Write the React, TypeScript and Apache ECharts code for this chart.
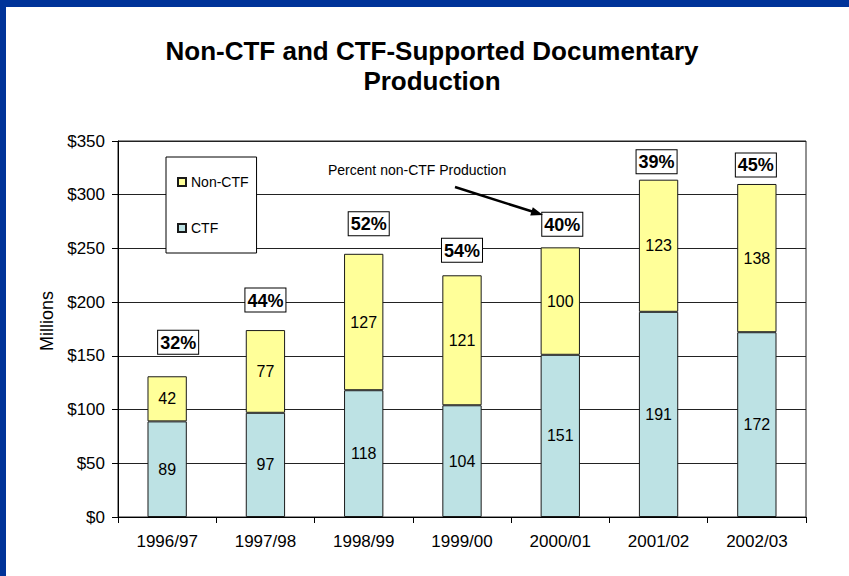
import React, { useEffect, useRef } from 'react';
import * as echarts from 'echarts';

// ---- data ----
const categories = ['1996/97', '1997/98', '1998/99', '1999/00', '2000/01', '2001/02', '2002/03'];
const ctfValues = [89, 97, 118, 104, 151, 191, 172];
const nonCtfValues = [42, 77, 127, 121, 100, 123, 138];
const pctNonCtf = ['32%', '44%', '52%', '54%', '40%', '39%', '45%'];
const yMin = 0;
const yMax = 350;
const yInterval = 50;

// ---- label placement (style) ----
const pctLabelGap = [22, 18, 18, 13, 11, 6, 7];
const pctLabelShift = [11, 0, 5, 0, 2, -2, -1];

const FONT = '"Liberation Sans", Arial, sans-serif';

export default function App() {
  const ref = useRef<HTMLDivElement>(null);

  useEffect(() => {
    document.body.style.margin = '0';
    if (!ref.current) return;
    const chart = echarts.init(ref.current, undefined, { renderer: 'svg' });

    const totals = ctfValues.map((v, i) => v + nonCtfValues[i]);

    const option: any = {
      animation: false,
      backgroundColor: '#ffffff',
      textStyle: { fontFamily: FONT, color: '#000' },
      title: {
        text: 'Non-CTF and CTF-Supported Documentary\nProduction',
        left: 427,
        top: 31,
        textAlign: 'center',
        textStyle: { fontFamily: FONT, fontSize: 26, fontWeight: 'bold', lineHeight: 30, color: '#000' },
      },
      legend: {
        data: ['Non-CTF', 'CTF'],
        orient: 'vertical',
        left: 166,
        top: 157,
        padding: [17, 8, 17, 11],
        itemGap: 30,
        itemWidth: 8,
        itemHeight: 8,
        icon: 'rect',
        backgroundColor: '#fff',
        borderColor: '#000',
        borderWidth: 1,
        textStyle: { fontFamily: FONT, fontSize: 14, lineHeight: 16, color: '#000' },
      },
      grid: {
        left: 118,
        right: 43,
        top: 141,
        bottom: 59,
        show: true,
        borderColor: '#222',
        borderWidth: 1,
        backgroundColor: '#fff',
      },
      xAxis: {
        type: 'category',
        data: categories,
        boundaryGap: true,
        axisLine: { lineStyle: { color: '#000', width: 1 } },
        axisTick: { show: true, length: 6, lineStyle: { color: '#000' } },
        axisLabel: { fontFamily: FONT, fontSize: 17, color: '#000', margin: 16, interval: 0 },
        splitLine: { show: false },
      },
      yAxis: {
        type: 'value',
        min: yMin,
        max: yMax,
        interval: yInterval,
        name: 'Millions',
        nameLocation: 'middle',
        nameGap: 62,
        nameTextStyle: { fontFamily: FONT, fontSize: 18, color: '#000', padding: [0, 0, 0, 16] },
        axisLine: { show: true, lineStyle: { color: '#000', width: 1 } },
        axisTick: { show: true, inside: false, length: 6, lineStyle: { color: '#000' } },
        axisLabel: { formatter: '${value}', fontFamily: FONT, fontSize: 17, color: '#000', margin: 13 },
        splitLine: { show: true, lineStyle: { color: '#222', width: 1 } },
      },
      series: [
        {
          name: 'CTF',
          type: 'bar',
          stack: 'total',
          barWidth: '40%',
          data: ctfValues,
          itemStyle: { color: '#BDE2E4', borderColor: '#1a1a1a', borderWidth: 1 },
          label: { show: true, position: 'inside', fontFamily: FONT, fontSize: 16, color: '#000' },
        },
        {
          name: 'Non-CTF',
          type: 'bar',
          stack: 'total',
          barWidth: '40%',
          data: nonCtfValues,
          itemStyle: { color: '#FFFF99', borderColor: '#1a1a1a', borderWidth: 1 },
          label: { show: true, position: 'inside', fontFamily: FONT, fontSize: 16, color: '#000' },
        },
        {
          name: 'Percent',
          type: 'scatter',
          symbolSize: 1,
          silent: true,
          itemStyle: { color: 'rgba(0,0,0,0)', opacity: 1 },
          z: 5,
          data: totals.map((t, i) => ({
            value: [i, t],
            label: {
              show: true,
              position: 'top',
              distance: pctLabelGap[i],
              offset: [pctLabelShift[i], 0],
              formatter: pctNonCtf[i],
            },
          })),
          label: {
            show: true,
            fontFamily: FONT,
            fontSize: 18,
            fontWeight: 'bold',
            color: '#000',
            opacity: 1,
            lineHeight: 20,
            backgroundColor: '#fff',
            borderColor: '#000',
            borderWidth: 1,
            padding: [2, 2, 1, 2],
          },
        },
      ],
      graphic: [
        { type: 'rect', z: 100, shape: { x: 0, y: 0, width: 849, height: 7 }, style: { fill: '#003399' } },
        { type: 'rect', z: 100, shape: { x: 0, y: 0, width: 6, height: 576 }, style: { fill: '#003399' } },
        {
          type: 'text',
          z: 50,
          x: 328,
          y: 170,
          style: {
            text: 'Percent non-CTF Production',
            fontFamily: FONT,
            fontSize: 14,
            fill: '#000',
            textAlign: 'left',
            textVerticalAlign: 'middle',
          },
        },
        {
          type: 'line',
          z: 50,
          shape: { x1: 455, y1: 187, x2: 533, y2: 211.8 },
          style: { stroke: '#000', lineWidth: 2.5 },
        },
        {
          type: 'polygon',
          z: 50,
          shape: { points: [[543, 215], [530.2, 215.6], [532.8, 207.2]] },
          style: { fill: '#000' },
        },
      ],
    };

    chart.setOption(option);
    return () => {
      chart.dispose();
    };
  }, []);

  return <div ref={ref} style={{ width: 849, height: 576 }} />;
}
